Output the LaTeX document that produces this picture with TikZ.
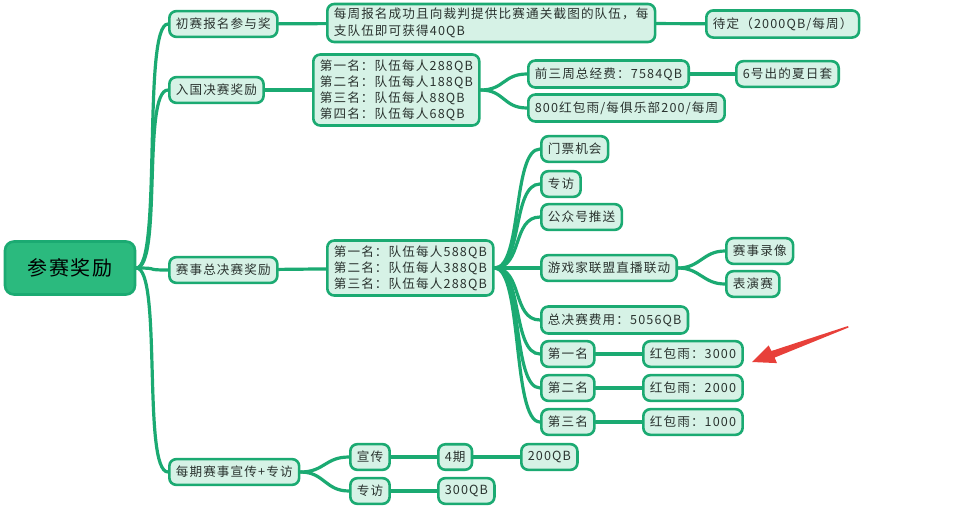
\documentclass[tikz,border=0pt]{standalone}
\usepackage{fontspec}
\setmainfont[LetterSpace=9]{Noto Sans CJK SC}
\usetikzlibrary{calc}
\definecolor{gline}{HTML}{1BAA72}
\definecolor{gfill}{HTML}{D6F2E6}
\definecolor{groot}{HTML}{2BBA7E}
\definecolor{gtext}{HTML}{2A332F}
\definecolor{rarrow}{HTML}{E8403A}
\tikzset{
  box/.style={draw=gline, line width=2.6pt, fill=gfill, rounded corners=7pt,
    inner xsep=6.5pt, inner ysep=7pt, font=\fontsize{12.6}{16}\selectfont,
    text=gtext, align=left, anchor=west},
  rootbox/.style={draw=gline, line width=2.6pt, fill=groot, rounded corners=9pt,
    minimum width=130pt, minimum height=53pt, font=\fontsize{20}{24}\selectfont, text=black},
  conn/.style={draw=gline, line width=3.2pt, line cap=round},
  curv/.style={to path={.. controls ($(\tikztostart)+(#1,0)$) and ($(\tikztotarget)+(-#1,0)$) .. (\tikztotarget)}},
  curv/.default=24
}
\begin{document}
\begin{tikzpicture}[x=1pt,y=-1pt]
\useasboundingbox (0,0) rectangle (965,509);
% nodes
\node[rootbox] (root) at (70,268) {参赛奖励};
\node[box] (n1) at (168,24) {初赛报名参与奖};
\node[box] (n2) at (168,90) {入国决赛奖励};
\node[box] (n3) at (168,270) {赛事总决赛奖励};
\node[box] (n4) at (168,472) {每期赛事宣传+专访};

\node[box, font=\fontsize{12.6}{17}\selectfont, inner ysep=4pt] (long) at (326,23) {每周报名成功且向裁判提供比赛通关截图的队伍，每\\支队伍即可获得40QB};
\node[box] (dd) at (705,24) {待定（2000QB/每周）};

\node[box, inner ysep=5pt] (r4) at (312,90) {第一名：队伍每人288QB\\第二名：队伍每人188QB\\第三名：队伍每人88QB\\第四名：队伍每人68QB};
\node[box] (qs) at (527,74) {前三周总经费：7584QB};
\node[box] (six) at (735,74) {6号出的夏日套};
\node[box] (hb800) at (527,108) {800红包雨/每俱乐部200/每周};

\node[box, inner ysep=5pt] (r3) at (326,268) {第一名：队伍每人588QB\\第二名：队伍每人388QB\\第三名：队伍每人288QB};
\node[box] (mp) at (540,149) {门票机会};
\node[box] (zf1) at (540,184) {专访};
\node[box] (gzh) at (540,217) {公众号推送};
\node[box] (yx) at (540,268) {游戏家联盟直播联动};
\node[box] (lx) at (725,251) {赛事录像};
\node[box] (by) at (725,284) {表演赛};
\node[box] (zjs) at (540,320) {总决赛费用：5056QB};
\node[box] (d1) at (540,354) {第一名};
\node[box] (h1) at (642,354) {红包雨：3000};
\node[box] (d2) at (540,388) {第二名};
\node[box] (h2) at (642,388) {红包雨：2000};
\node[box] (d3) at (540,422) {第三名};
\node[box] (h3) at (642,422) {红包雨：1000};

\node[box] (xc) at (349,457) {宣传};
\node[box] (q4) at (437,457) {4期};
\node[box] (q200) at (520,457) {200QB};
\node[box] (zf2) at (349,491) {专访};
\node[box] (q300) at (437,491) {300QB};

% connectors
\foreach \c in {n1,n2,n3,n4} \draw[conn] (root.east) to[curv=26] (\c.west);
\draw[conn] (n1) -- (long);
\draw[conn] (long) -- (dd);
\draw[conn] (n2) -- (r4);
\draw[conn] (r4.east) to[curv=24] (qs.west);
\draw[conn] (r4.east) to[curv=24] (hb800.west);
\draw[conn] (qs) -- (six);
\draw[conn] (n3) -- (r3);
\foreach \c in {mp,zf1,gzh,yx,zjs,d1,d2,d3} \draw[conn] (r3.east) to[curv=28] (\c.west);
\draw[conn] (yx.east) to[curv=22] (lx.west);
\draw[conn] (yx.east) to[curv=22] (by.west);
\draw[conn] (d1) -- (h1);
\draw[conn] (d2) -- (h2);
\draw[conn] (d3) -- (h3);
\draw[conn] (n4.east) to[curv=24] (xc.west);
\draw[conn] (n4.east) to[curv=24] (zf2.west);
\draw[conn] (xc) -- (q4);
\draw[conn] (q4) -- (q200);
\draw[conn] (zf2) -- (q300);

% red arrow
\coordinate (tail) at (848,326);
\coordinate (tip) at (752,362);
\fill[rarrow] (tail) -- (771.4,351.0) -- (768.6,345.4) -- (tip) -- (777.0,363.1) -- (774.6,357.6) -- (848.5,327.5) -- cycle;
\end{tikzpicture}
\end{document}
